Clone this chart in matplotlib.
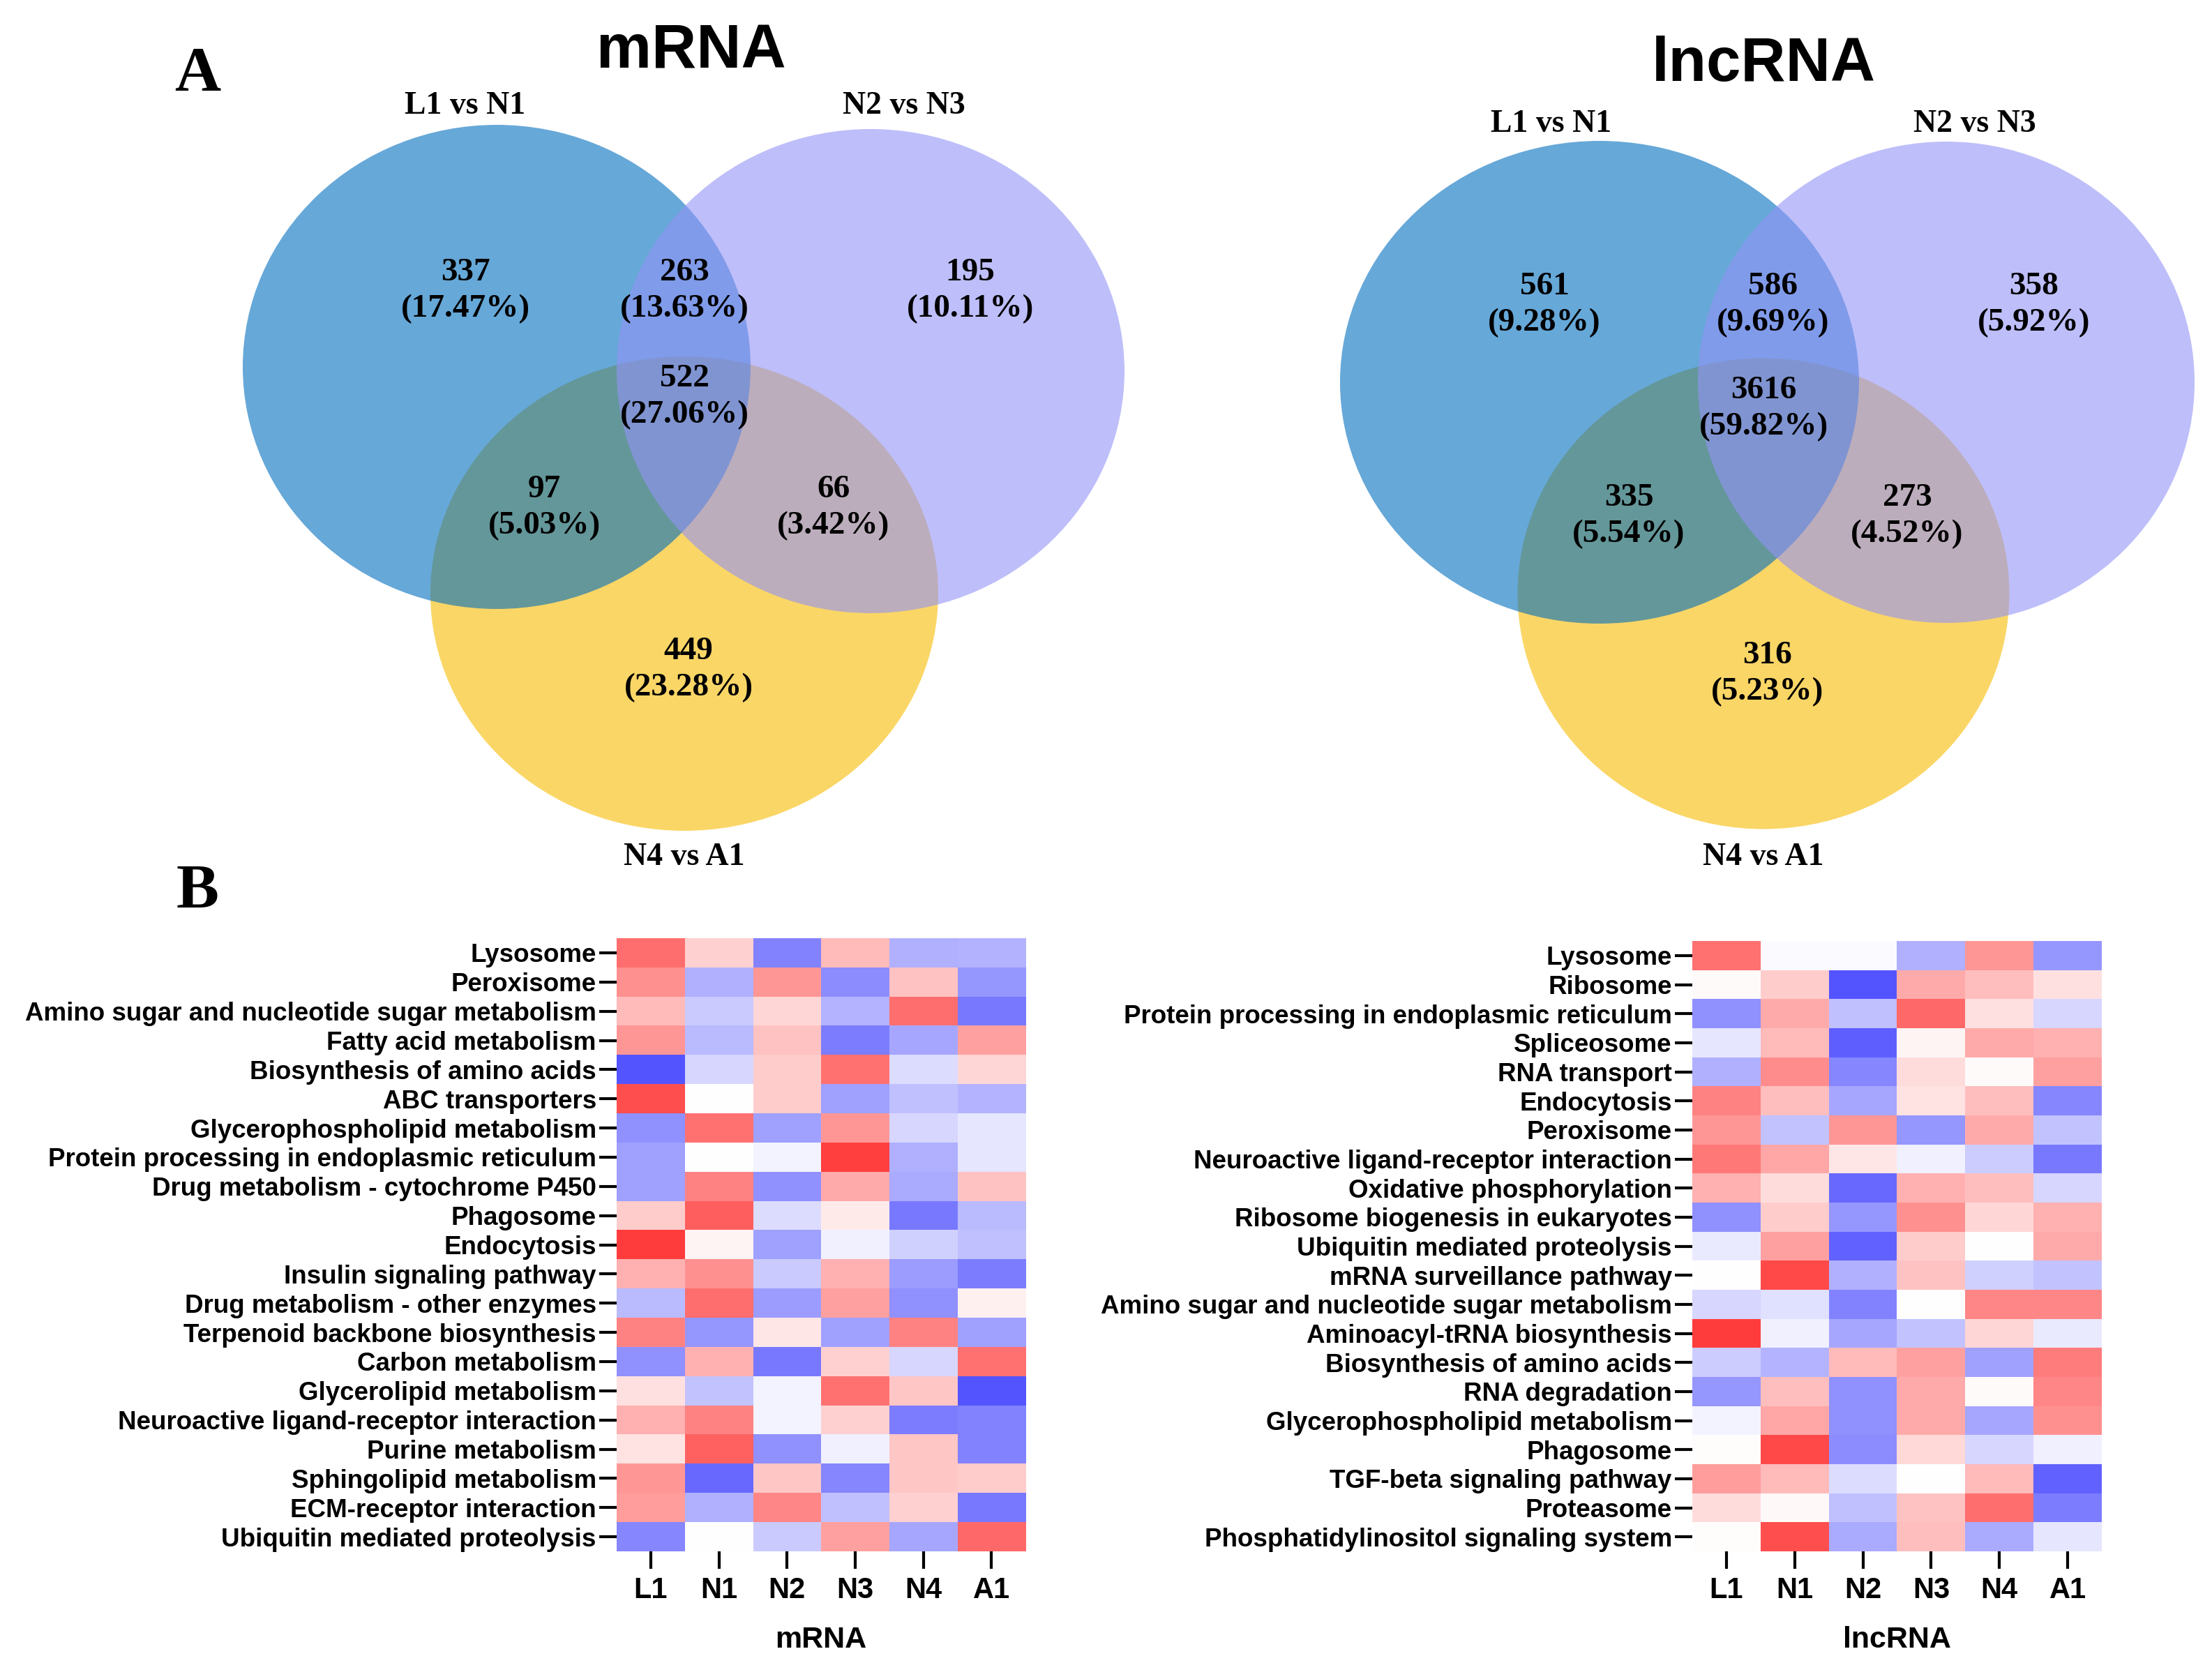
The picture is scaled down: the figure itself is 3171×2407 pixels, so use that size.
import numpy as np
import matplotlib
matplotlib.use("Agg")
import matplotlib.pyplot as plt
from matplotlib.patches import Ellipse
from matplotlib.colors import LinearSegmentedColormap

# Venn counts (regions: A only, AB, B only, ABC, AC, BC, C only)
VENN_SETS = ["L1 vs N1", "N2 vs N3", "N4 vs A1"]
mrnaCounts = [337, 263, 195, 522, 97, 66, 449]
mrnaPct = ["17.47%", "13.63%", "10.11%", "27.06%", "5.03%", "3.42%", "23.28%"]
lncCounts = [561, 586, 358, 3616, 335, 273, 316]
lncPct = ["9.28%", "9.69%", "5.92%", "59.82%", "5.54%", "4.52%", "5.23%"]

samples = ["L1", "N1", "N2", "N3", "N4", "A1"]

mrnaPathways = ["Lysosome", "Peroxisome", "Amino sugar and nucleotide sugar metabolism",
                "Fatty acid metabolism", "Biosynthesis of amino acids", "ABC transporters",
                "Glycerophospholipid metabolism", "Protein processing in endoplasmic reticulum",
                "Drug metabolism - cytochrome P450", "Phagosome", "Endocytosis",
                "Insulin signaling pathway", "Drug metabolism - other enzymes",
                "Terpenoid backbone biosynthesis", "Carbon metabolism", "Glycerolipid metabolism",
                "Neuroactive ligand-receptor interaction", "Purine metabolism",
                "Sphingolipid metabolism", "ECM-receptor interaction", "Ubiquitin mediated proteolysis"]
mrnaValues = [
    [0.57, 0.18, -0.49, 0.27, -0.31, -0.30],
    [0.43, -0.31, 0.41, -0.45, 0.24, -0.41],
    [0.27, -0.21, 0.16, -0.29, 0.57, -0.53],
    [0.41, -0.27, 0.24, -0.51, -0.35, 0.37],
    [-0.67, -0.16, 0.20, 0.55, -0.14, 0.16],
    [0.69, 0.00, 0.20, -0.37, -0.25, -0.29],
    [-0.43, 0.55, -0.37, 0.41, -0.16, -0.10],
    [-0.37, 0.00, -0.04, 0.75, -0.31, -0.10],
    [-0.37, 0.49, -0.43, 0.33, -0.33, 0.24],
    [0.20, 0.63, -0.14, 0.08, -0.53, -0.27],
    [0.76, 0.04, -0.37, -0.06, -0.18, -0.25],
    [0.31, 0.43, -0.21, 0.31, -0.39, -0.51],
    [-0.27, 0.57, -0.39, 0.37, -0.43, 0.06],
    [0.49, -0.41, 0.10, -0.37, 0.49, -0.37],
    [-0.43, 0.31, -0.53, 0.18, -0.16, 0.55],
    [0.12, -0.24, -0.04, 0.55, 0.22, -0.67],
    [0.31, 0.49, -0.04, 0.18, -0.51, -0.49],
    [0.11, 0.61, -0.43, -0.06, 0.22, -0.49],
    [0.41, -0.59, 0.22, -0.47, 0.22, 0.20],
    [0.39, -0.31, 0.47, -0.25, 0.18, -0.53],
    [-0.47, 0.00, -0.21, 0.37, -0.35, 0.59],
]

lncPathways = ["Lysosome", "Ribosome", "Protein processing in endoplasmic reticulum",
               "Spliceosome", "RNA transport", "Endocytosis", "Peroxisome",
               "Neuroactive ligand-receptor interaction", "Oxidative phosphorylation",
               "Ribosome biogenesis in eukaryotes", "Ubiquitin mediated proteolysis",
               "mRNA surveillance pathway", "Amino sugar and nucleotide sugar metabolism",
               "Aminoacyl-tRNA biosynthesis", "Biosynthesis of amino acids", "RNA degradation",
               "Glycerophospholipid metabolism", "Phagosome", "TGF-beta signaling pathway",
               "Proteasome", "Phosphatidylinositol signaling system"]
lncValues = [
    [0.55, -0.02, -0.02, -0.31, 0.41, -0.41],
    [0.02, 0.20, -0.67, 0.33, 0.25, 0.12],
    [-0.43, 0.33, -0.25, 0.59, 0.12, -0.16],
    [-0.10, 0.27, -0.63, 0.04, 0.33, 0.31],
    [-0.31, 0.45, -0.47, 0.14, 0.02, 0.37],
    [0.49, 0.25, -0.35, 0.11, 0.25, -0.47],
    [0.41, -0.24, 0.41, -0.41, 0.33, -0.24],
    [0.53, 0.35, 0.10, -0.06, -0.20, -0.53],
    [0.31, 0.14, -0.59, 0.31, 0.25, -0.16],
    [-0.43, 0.20, -0.41, 0.43, 0.16, 0.31],
    [-0.08, 0.37, -0.61, 0.20, 0.00, 0.33],
    [0.00, 0.71, -0.31, 0.24, -0.18, -0.24],
    [-0.16, -0.12, -0.49, 0.00, 0.47, 0.47],
    [0.76, -0.06, -0.35, -0.24, 0.16, -0.08],
    [-0.20, -0.29, 0.27, 0.37, -0.37, 0.51],
    [-0.41, 0.25, -0.43, 0.33, 0.02, 0.47],
    [-0.04, 0.35, -0.43, 0.33, -0.35, 0.43],
    [0.01, 0.71, -0.45, 0.15, -0.16, -0.06],
    [0.39, 0.27, -0.14, 0.00, 0.27, -0.61],
    [0.14, 0.03, -0.25, 0.24, 0.57, -0.51],
    [0.01, 0.69, -0.33, 0.25, -0.33, -0.10],
]

W, H = 3171, 2407
SERIF = ["Liberation Serif", "DejaVu Serif"]
SANS = ["Liberation Sans", "DejaVu Sans"]

fig = plt.figure(figsize=(W / 100, H / 100), dpi=100)
fig.patch.set_facecolor("white")

# full-figure axes in pixel coordinates for the venn diagrams and panel letters
vax = fig.add_axes([0, 0, 1, 1])
vax.set_xlim(0, W)
vax.set_ylim(H, 0)
vax.axis("off")

CIRCLE_COLORS = ["#006EBE", "#9393F7", "#F7BC00"]

def drawVenn(centers, sizes, title, titlePos, setPos, labelPos, counts, pcts):
    # yellow first, blue, then lavender on top
    for i in [2, 0, 1]:
        vax.add_patch(Ellipse(centers[i], sizes[i][0], sizes[i][1], facecolor=CIRCLE_COLORS[i],
                              alpha=0.6, edgecolor="none"))
    vax.text(titlePos[0], titlePos[1], title, ha="center", va="center", fontsize=64,
             fontweight="bold", family=SANS)
    for name, p in zip(VENN_SETS, setPos):
        vax.text(p[0], p[1], name, ha="center", va="center", fontsize=33,
                 fontweight="bold", family=SERIF)
    for c, pc, p in zip(counts, pcts, labelPos):
        vax.text(p[0], p[1], "{}\n({})".format(c, pc), ha="center", va="center",
                 fontsize=34, fontweight="bold", family=SERIF, linespacing=1.3)

drawVenn([(712, 526), (1248, 532), (981, 851)], [(728, 694), (728, 694), (728, 680)],
         "mRNA", (991, 75),
         [(667, 152), (1296, 152), (981, 1229)],
         [(667, 417), (981, 417), (1391, 417), (981, 569), (780, 728), (1195, 728), (987, 960)],
         mrnaCounts, mrnaPct)
drawVenn([(2293, 548), (2790, 548), (2528, 851)], [(744, 692), (712, 690), (705, 675)],
         "lncRNA", (2528, 93),
         [(2224, 178), (2831, 178), (2528, 1229)],
         [(2214, 437), (2542, 437), (2916, 437), (2528, 586), (2335, 740), (2734, 740), (2534, 966)],
         lncCounts, lncPct)

vax.text(283, 108, "A", ha="center", va="center", fontsize=66, fontweight="bold", family=SERIF)
vax.text(283, 1280, "B", ha="center", va="center", fontsize=66, fontweight="bold", family=SERIF)

cmap = LinearSegmentedColormap.from_list("bwr2", ["#0000FF", "#FFFFFF", "#FF0000"])

def drawHeatmap(rect, values, pathways, xlabel):
    ax = fig.add_axes(rect)
    ax.imshow(np.array(values), cmap=cmap, vmin=-1, vmax=1, aspect="auto",
              interpolation="nearest")
    ax.set_yticks(range(len(pathways)))
    ax.set_yticklabels(pathways, fontsize=26.5, fontweight="bold", family=SANS)
    ax.set_xticks(range(len(samples)))
    ax.set_xticklabels(samples, fontsize=30, fontweight="bold", family=SANS)
    ax.tick_params(axis="both", length=18, width=3, pad=3)
    ax.tick_params(axis="x", pad=8)
    ax.set_xlabel(xlabel, fontsize=31, fontweight="bold", family=SANS, labelpad=22)
    for s in ax.spines.values():
        s.set_visible(False)
    return ax

drawHeatmap([884 / W, 1 - 2224 / H, 586 / W, 879 / H], mrnaValues, mrnaPathways, "mRNA")
drawHeatmap([2426 / W, 1 - 2224 / H, 587 / W, 875 / H], lncValues, lncPathways, "lncRNA")

fig.savefig("out.png", dpi=100, facecolor="white")
